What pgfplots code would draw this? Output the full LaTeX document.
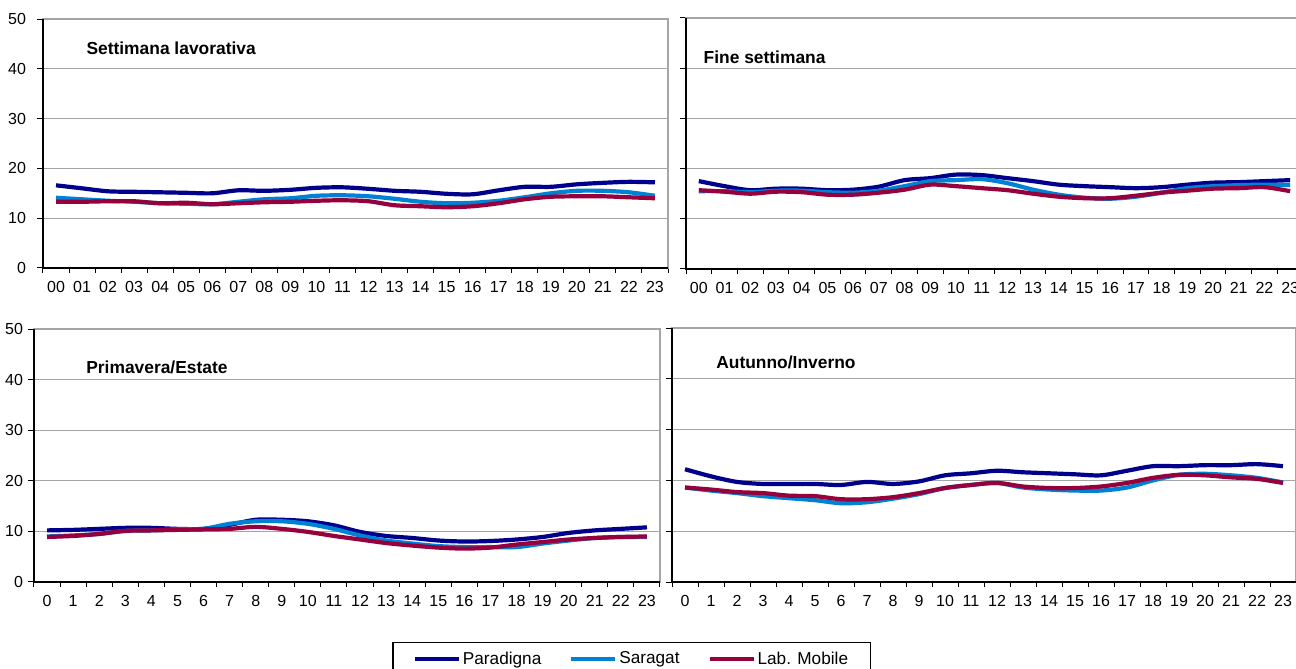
\documentclass[border=0pt]{standalone}
\usepackage{pgfplots}
\usepackage{pgfplotstable}
\pgfplotsset{compat=1.18}
\usepackage{fontspec}
\setmainfont{Liberation Sans}
\definecolor{cPar}{RGB}{0,0,140}
\definecolor{cSar}{RGB}{0,130,212}
\definecolor{cLab}{RGB}{150,0,60}
\definecolor{gridc}{RGB}{165,165,165}

\pgfplotstableread{
h P S L
0 16.6 14.1 13.3
1 16.0 13.8 13.3
2 15.4 13.5 13.4
3 15.3 13.3 13.4
4 15.2 13.0 13.0
5 15.1 12.9 13.1
6 15.0 12.8 12.8
7 15.6 13.3 13.0
8 15.5 13.8 13.2
9 15.7 14.0 13.3
10 16.1 14.5 13.5
11 16.2 14.6 13.6
12 15.9 14.4 13.4
13 15.5 13.9 12.6
14 15.3 13.3 12.4
15 14.9 13.0 12.2
16 14.8 13.1 12.4
17 15.6 13.5 13.0
18 16.3 14.2 13.8
19 16.3 15.0 14.3
20 16.8 15.5 14.4
21 17.1 15.5 14.4
22 17.3 15.2 14.2
23 17.2 14.5 14.0
}\tabLav

\pgfplotstableread{
h P S L
0 17.5 15.5 15.7
1 16.5 15.5 15.4
2 15.7 15.3 15.0
3 16.0 15.6 15.4
4 16.0 15.6 15.3
5 15.7 15.3 14.8
6 15.8 15.2 14.8
7 16.4 15.6 15.2
8 17.7 16.5 15.8
9 18.1 17.5 16.8
10 18.8 17.7 16.5
11 18.7 17.9 16.1
12 18.1 17.1 15.7
13 17.5 15.8 15.0
14 16.8 14.8 14.4
15 16.5 14.2 14.1
16 16.3 14.0 14.1
17 16.1 14.4 14.6
18 16.3 15.2 15.2
19 16.8 16.1 15.6
20 17.2 16.5 16.0
21 17.3 16.7 16.1
22 17.5 16.8 16.3
23 17.7 16.7 15.5
}\tabFine

\pgfplotstableread{
h P S L
0 10.2 9.0 8.9
1 10.3 9.2 9.1
2 10.5 9.5 9.5
3 10.7 10.1 10.1
4 10.7 10.2 10.2
5 10.5 10.4 10.3
6 10.5 10.5 10.4
7 11.3 11.5 10.5
8 12.3 12.0 10.9
9 12.3 12.0 10.5
10 12.0 11.5 9.9
11 11.2 10.5 9.1
12 9.9 9.2 8.4
13 9.1 8.2 7.7
14 8.7 7.6 7.2
15 8.2 7.1 6.8
16 8.0 6.9 6.6
17 8.1 6.9 6.8
18 8.4 6.9 7.4
19 8.9 7.6 7.9
20 9.7 8.2 8.4
21 10.2 8.7 8.7
22 10.5 8.9 8.9
23 10.8 8.9 9.0
}\tabPrim

\pgfplotstableread{
h P S L
0 22.2 18.6 18.6
1 20.8 18.0 18.2
2 19.7 17.5 17.7
3 19.3 16.9 17.5
4 19.3 16.5 17.0
5 19.3 16.1 16.9
6 19.1 15.5 16.3
7 19.7 15.7 16.3
8 19.3 16.4 16.7
9 19.8 17.3 17.5
10 21.0 18.5 18.5
11 21.4 19.1 19.1
12 21.9 19.5 19.5
13 21.6 18.6 18.8
14 21.4 18.2 18.5
15 21.2 18.0 18.5
16 21.0 18.0 18.8
17 21.9 18.6 19.5
18 22.8 20.0 20.5
19 22.8 21.1 21.1
20 23.0 21.3 21.0
21 23.0 21.0 20.6
22 23.2 20.5 20.3
23 22.8 19.6 19.5
}\tabAut

\tikzset{ttl/.style={anchor=west, inner sep=0pt, font=\fontsize{8.7}{10}\selectfont\bfseries}}

\pgfplotsset{
  panel/.style={
    scale only axis,
    anchor=north west,
    xmin=-0.5, xmax=23.5,
    ymin=0, ymax=50,
    xtick={0,...,23},
    minor xtick={-0.5,0.5,...,23.5},
    ytick={0,10,...,50},
    xtick pos=bottom,
    ytick pos=left,
    tick align=outside,
    major tick length=3pt,
    minor tick length=2.5pt,
    major x tick style={draw=none},
    tick style={black, line width=0.5pt},
    ymajorgrids,
    grid style={gridc, line width=0.6pt},
    axis line style={gridc, line width=0.6pt},
    clip=false,
    /pgf/number format/assume math mode=true,
    tick label style={font=\fontsize{8}{9.6}\selectfont},
    every axis plot/.append style={smooth, line width=2.1pt},
    after end axis/.code={
      \draw[black, line width=0.7pt] (rel axis cs:0,1) -- (rel axis cs:0,0) -- (rel axis cs:1,0);
    },
  },
  twodig/.style={xticklabels={00,01,02,03,04,05,06,07,08,09,10,11,12,13,14,15,16,17,18,19,20,21,22,23}},
  onedig/.style={xticklabels={0,1,2,3,4,5,6,7,8,9,10,11,12,13,14,15,16,17,18,19,20,21,22,23}},
}

\begin{document}
\begin{tikzpicture}
\path[use as bounding box] (0pt,0pt) rectangle (648pt,-334.5pt);

% Top-left
\begin{axis}[panel, twodig, yticklabel style={xshift=-2pt}, at={(21.5pt,-9.5pt)}, width=312.5pt, height=124.5pt]
\addplot[cPar] table[x=h,y=P] {\tabLav};
\addplot[cSar] table[x=h,y=S] {\tabLav};
\addplot[cLab] table[x=h,y=L] {\tabLav};
\node[ttl] at (rel axis cs:0.069,0.884) {Settimana lavorativa};
\end{axis}

% Top-right
\begin{axis}[panel, twodig, yticklabels={}, at={(343pt,-9pt)}, width=308.5pt, height=125.5pt]
\addplot[cPar] table[x=h,y=P] {\tabFine};
\addplot[cSar] table[x=h,y=S] {\tabFine};
\addplot[cLab] table[x=h,y=L] {\tabFine};
\node[ttl] at (rel axis cs:0.028,0.845) {Fine settimana};
\end{axis}

% Bottom-left
\begin{axis}[panel, onedig, yticklabel style={xshift=1pt}, at={(17pt,-164.5pt)}, width=313pt, height=126.5pt,
  legend columns=3,
  legend style={at={(0.9545,-0.237)}, anchor=north, draw=black, line width=0.6pt,
    font=\fontsize{8.6}{10}\selectfont, inner xsep=10pt, inner ysep=3pt,
    /tikz/every even column/.append style={column sep=13pt},
    nodes={inner xsep=1pt, inner ysep=1.5pt}},
  legend image code/.code={\draw[#1, line width=2pt] (0pt,0pt) -- (22pt,0pt);},
]
\addplot[cPar] table[x=h,y=P] {\tabPrim};
\addplot[cSar] table[x=h,y=S] {\tabPrim};
\addplot[cLab] table[x=h,y=L] {\tabPrim};
\legend{Paradigna, Saragat, Lab. Mobile}
\node[ttl] at (rel axis cs:0.083,0.85) {Primavera/Estate};
\end{axis}

% Bottom-right
\begin{axis}[panel, onedig, yticklabels={}, at={(336pt,-164pt)}, width=312pt, height=127pt]
\addplot[cPar] table[x=h,y=P] {\tabAut};
\addplot[cSar] table[x=h,y=S] {\tabAut};
\addplot[cLab] table[x=h,y=L] {\tabAut};
\node[ttl] at (rel axis cs:0.0704,0.866) {Autunno/Inverno};
\end{axis}
\end{tikzpicture}
\end{document}
